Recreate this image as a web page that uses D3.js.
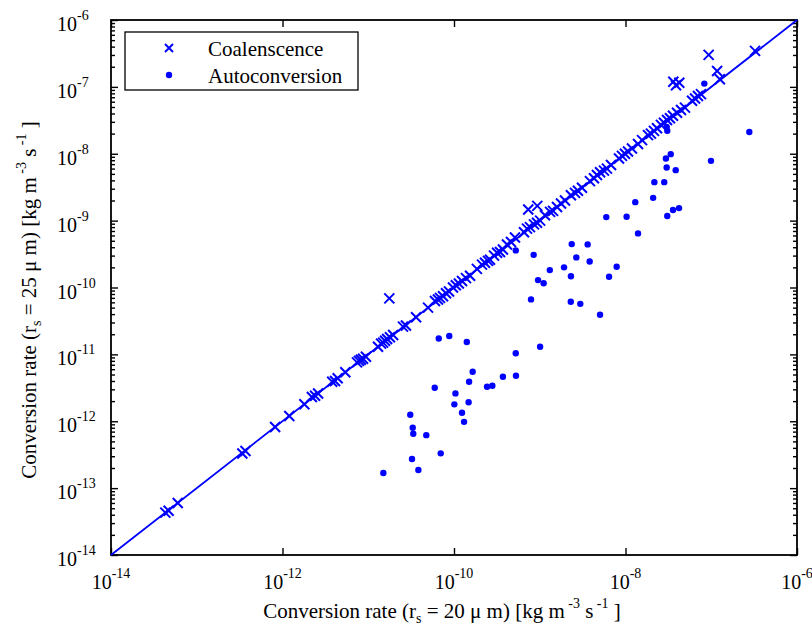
<!DOCTYPE html>
<html><head><meta charset="utf-8">
<script src="https://cdn.jsdelivr.net/npm/d3@7"></script>
<style>body{margin:0;background:#fff}svg{display:block}text{font-family:"Liberation Serif","Times New Roman",serif}</style>
</head><body><svg id="c" width="812" height="631"></svg>
<script>
// ---- data ----
const coalX = [4.3e-14,4.7e-14,6.0e-14,3.4e-13,3.7e-13,8.2e-13,1.2e-12,1.8e-12,2.2e-12,2.4e-12,2.6e-12,3.8e-12,4.1e-12,4.4e-12,5.4e-12,7.4e-12,7.8e-12,8.2e-12,8.7e-12,9.4e-12,
1.3e-11,1.41e-11,1.49e-11,1.57e-11,1.66e-11,1.79e-11,1.95e-11,2.54e-11,2.75e-11,3.61e-11,4.98e-11,6.0e-11,6.5e-11,6.87e-11,7.45e-11,8.07e-11,8.75e-11,9.73e-11,
1.05e-10,1.14e-10,1.24e-10,1.38e-10,1.54e-10,1.85e-10,2.12e-10,2.30e-10,2.49e-10,2.63e-10,2.93e-10,3.18e-10,3.44e-10,3.72e-10,4.15e-10,4.62e-10,5.14e-10,6.55e-10,7.10e-10,7.69e-10,8.57e-10,9.29e-10,
1.01e-9,1.15e-9,1.32e-9,1.43e-9,1.59e-9,1.77e-9,1.97e-9,2.31e-9,2.58e-9,2.79e-9,3.11e-9,3.85e-9,4.29e-9,4.65e-9,5.05e-9,5.61e-9,6.08e-9,6.78e-9,8.40e-9,9.10e-9,9.86e-9,
1.07e-8,1.19e-8,1.40e-8,1.56e-8,1.83e-8,1.98e-8,2.15e-8,2.33e-8,2.59e-8,2.81e-8,3.05e-8,3.30e-8,3.58e-8,3.99e-8,4.44e-8,4.94e-8,5.97e-8,6.47e-8,7.0e-8,7.59e-8,1.26e-7,3.24e-7,
1.76e-11,7.34e-10,9.36e-10,3.61e-8,3.88e-8,4.24e-8,9.33e-8,1.17e-7];
const coalY = [4.3e-14,4.6e-14,6.0e-14,3.3e-13,3.6e-13,8.2e-13,1.2e-12,1.8e-12,2.3e-12,2.4e-12,2.6e-12,3.9e-12,4.0e-12,4.4e-12,5.4e-12,7.6e-12,8.0e-12,8.3e-12,8.6e-12,9.2e-12,
1.3e-11,1.45e-11,1.5e-11,1.6e-11,1.7e-11,1.8e-11,1.95e-11,2.6e-11,2.7e-11,3.6e-11,5.0e-11,6.3e-11,6.6e-11,7.0e-11,7.4e-11,8.2e-11,8.7e-11,1.0e-10,
1.08e-10,1.15e-10,1.25e-10,1.38e-10,1.5e-10,1.9e-10,2.2e-10,2.35e-10,2.5e-10,2.6e-10,3.0e-10,3.3e-10,3.4e-10,3.7e-10,4.4e-10,4.8e-10,5.6e-10,6.7e-10,7.6e-10,8.0e-10,8.8e-10,9.3e-10,
1.0e-9,1.2e-9,1.35e-9,1.4e-9,1.6e-9,1.8e-9,2.0e-9,2.4e-9,2.6e-9,2.8e-9,3.1e-9,3.9e-9,4.3e-9,4.8e-9,5.3e-9,5.6e-9,6.0e-9,6.8e-9,8.5e-9,9.3e-9,1.0e-8,
1.08e-8,1.2e-8,1.4e-8,1.6e-8,1.9e-8,2.0e-8,2.2e-8,2.4e-8,2.7e-8,2.9e-8,3.2e-8,3.4e-8,3.7e-8,4.1e-8,4.5e-8,4.9e-8,6.2e-8,6.7e-8,7.3e-8,7.8e-8,1.3e-7,3.45e-7,
6.87e-11,1.47e-9,1.66e-9,1.19e-7,1.06e-7,1.15e-7,3.01e-7,1.73e-7];
const autoX = [1.50e-11,3.09e-11,3.30e-11,3.35e-11,3.24e-11,3.84e-11,4.75e-11,5.96e-11,6.64e-11,7.0e-11,8.81e-11,1.01e-10,1.04e-10,1.24e-10,1.31e-10,1.41e-10,1.48e-10,1.50e-10,1.65e-10,2.43e-10,
2.80e-10,3.72e-10,5.25e-10,5.28e-10,5.25e-10,7.91e-10,8.49e-10,9.55e-10,1.01e-9,1.11e-9,1.31e-9,1.92e-9,2.30e-9,2.31e-9,2.36e-9,2.67e-9,2.97e-9,3.62e-9,3.82e-9,5.05e-9,
5.97e-9,6.43e-9,7.89e-9,1.03e-8,1.30e-8,1.40e-8,2.10e-8,2.17e-8,2.83e-8,2.96e-8,3.02e-8,3.07e-8,3.37e-8,3.58e-8,3.85e-8,4.21e-8,3.02e-8,3.07e-8,8.30e-8,9.93e-8,2.78e-7];
const autoY = [1.68e-13,1.25e-12,8.0e-13,6.5e-13,2.72e-13,1.87e-13,6.2e-13,3.17e-12,1.73e-11,3.31e-13,1.88e-11,1.79e-12,2.61e-12,1.34e-12,9.8e-13,1.53e-11,1.92e-12,3.89e-12,5.5e-12,3.28e-12,
3.40e-12,4.62e-12,1.04e-11,4.79e-12,3.59e-10,6.64e-11,3.08e-10,1.29e-10,1.30e-11,1.16e-10,1.82e-10,2.0e-10,6.11e-11,1.47e-10,4.46e-10,2.82e-10,5.70e-11,4.41e-10,2.45e-10,3.91e-11,
1.13e-9,1.45e-10,2.04e-10,1.14e-9,1.89e-9,6.44e-10,2.19e-9,3.76e-9,3.76e-9,8.51e-9,6.24e-9,1.17e-9,9.86e-9,1.44e-9,5.69e-9,1.54e-9,2.52e-8,2.21e-8,1.12e-7,7.83e-9,2.12e-8];
const xTickVals = [1e-14,1e-12,1e-10,1e-8,1e-6];
const xTickExps = ["-14","-12","-10","-8","-6"];
const yTickVals = [1e-14,1e-13,1e-12,1e-11,1e-10,1e-9,1e-8,1e-7,1e-6];
const yTickExps = ["-14","-13","-12","-11","-10","-9","-8","-7","-6"];
const legendLabels = ["Coalenscence","Autoconversion"];

// ---- drawing ----
const svg = d3.select("#c");
const L=111,R=797,T=20,B=555;
const x = d3.scaleLog().domain([1e-14,1e-6]).range([L,R]);
const y = d3.scaleLog().domain([1e-14,1e-6]).range([B,T]);
const blue = "#0000ff";

const yMinor = [];
yTickVals.slice(0,-1).forEach(v=>{for(let k=2;k<=9;k++) yMinor.push(v*k);});

const gx = svg.append("g").attr("transform",`translate(0,${B})`)
  .call(d3.axisBottom(x).tickValues(xTickVals).tickSize(-7).tickFormat(()=>"" ));
const gxt = svg.append("g").attr("transform",`translate(0,${T})`)
  .call(d3.axisTop(x).tickValues(xTickVals).tickSize(-7).tickFormat(()=>"" ));
const gy = svg.append("g").attr("transform",`translate(${L},0)`)
  .call(d3.axisLeft(y).tickValues(yTickVals).tickSize(-7).tickFormat(()=>"" ));
const gyr = svg.append("g").attr("transform",`translate(${R},0)`)
  .call(d3.axisRight(y).tickValues(yTickVals).tickSize(-7).tickFormat(()=>"" ));
const gym = svg.append("g").attr("transform",`translate(${L},0)`)
  .call(d3.axisLeft(y).tickValues(yMinor).tickSize(-4).tickFormat(()=>"" ));
const gymr = svg.append("g").attr("transform",`translate(${R},0)`)
  .call(d3.axisRight(y).tickValues(yMinor).tickSize(-4).tickFormat(()=>"" ));
[gx,gxt,gy,gyr,gym,gymr].forEach(g=>{
  g.select(".domain").remove();
  g.selectAll("line").attr("stroke","#000").attr("stroke-width",1.4);
});
svg.append("rect").attr("x",L).attr("y",T).attr("width",R-L).attr("height",B-T)
  .attr("fill","none").attr("stroke","#000").attr("stroke-width",1.8);

xTickVals.forEach((v,i)=>{
  const t = svg.append("text").attr("x",x(v)).attr("y",589).attr("text-anchor","middle").attr("font-size",20);
  t.append("tspan").text("10");
  t.append("tspan").attr("font-size",14).attr("dy",-11).text(xTickExps[i]);
});
yTickVals.forEach((v,i)=>{
  const t = svg.append("text").attr("x",57).attr("y",y(v)+11).attr("font-size",20);
  t.append("tspan").text("10");
  t.append("tspan").attr("font-size",14).attr("dy",-11).text(yTickExps[i]);
});

function title(sel, base){
  sel.append("tspan").text("Conversion rate (r");
  sel.append("tspan").attr("font-size",14).attr("dy",5).text("s");
  sel.append("tspan").attr("dy",-5).text(` = ${base} \u03bc m) [kg m`);
  sel.append("tspan").attr("font-size",14).attr("dy",-10).text(" -3");
  sel.append("tspan").attr("dy",10).text(" s");
  sel.append("tspan").attr("font-size",14).attr("dy",-10).text(" -1");
  sel.append("tspan").attr("dy",10).text(" ]");
}
title(svg.append("text").attr("x",442).attr("y",618).attr("text-anchor","middle").attr("font-size",21),"20");
title(svg.append("text").attr("transform","translate(36,300) rotate(-90)").attr("text-anchor","middle").attr("font-size",21),"25");

svg.append("line").attr("x1",x(1e-14)).attr("y1",y(1e-14)).attr("x2",x(1e-6)).attr("y2",y(1e-6))
  .attr("stroke",blue).attr("stroke-width",1.8);

const cross = "M-5,-5L5,5M-5,5L5,-5";
svg.append("g").selectAll("path").data(coalX).join("path")
  .attr("d",cross).attr("transform",(d,i)=>`translate(${x(d)},${y(coalY[i])})`)
  .attr("stroke",blue).attr("stroke-width",2).attr("fill","none");
svg.append("g").selectAll("circle").data(autoX).join("circle")
  .attr("cx",d=>x(d)).attr("cy",(d,i)=>y(autoY[i])).attr("r",3.2).attr("fill",blue);

const lg = svg.append("g");
lg.append("rect").attr("x",125).attr("y",32).attr("width",233).attr("height",58)
  .attr("fill","#fff").attr("stroke","#000").attr("stroke-width",1.3);
lg.append("path").attr("d","M-4,-4L4,4M-4,4L4,-4").attr("transform","translate(169,48)")
  .attr("stroke",blue).attr("stroke-width",2).attr("fill","none");
lg.append("circle").attr("cx",169).attr("cy",75).attr("r",3.2).attr("fill",blue);
legendLabels.forEach((s,i)=>{
  lg.append("text").attr("x",208).attr("y",56+i*27).attr("font-size",21).text(s);
});
</script></body></html>
